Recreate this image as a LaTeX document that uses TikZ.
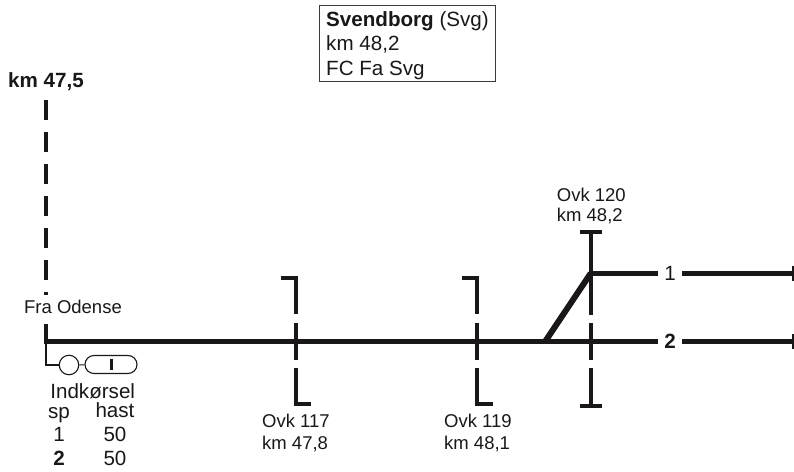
\documentclass[tikz,border=0pt]{standalone}
\usepackage{fontspec}
\setmainfont{Liberation Sans}
\usepackage{tikz}
\usetikzlibrary{positioning,calc}
\definecolor{sort}{HTML}{1A1718}
\tikzset{
	spor/.style={sort,line width=5pt},
	ovk/.style={sort,line width=4pt},
	tynd/.style={sort,line width=1.1pt},
	txt/.style={text=sort,inner sep=0pt,anchor=base west,font=\fontsize{18.5}{21}\selectfont},
	stor/.style={text=sort,inner sep=0pt,font=\fontsize{20.6}{24}\selectfont},
	spnr/.style={stor,minimum width=24pt}
}
\begin{document}
\begin{tikzpicture}[x=1pt,y=-1pt]
	\useasboundingbox (0,0) rectangle (794,471);
	% stationsboks
	\node[draw=sort!85,line width=1pt,stor,anchor=north west,minimum width=176pt,minimum height=75.5pt] (boks) at (319,5) {};
	\node[stor,anchor=base west] (navn) at (326,26.7) {\textbf{Svendborg} (Svg)};
	\node[stor,anchor=base west] (boksKm) at (326,50.7) {km 48,2};
	\node[stor,anchor=base west] (boksFc) at (326,75) {FC Fa Svg};
	% strækning fra Odense
	\node[stor,anchor=base west] (kmStart) at (8,87.7) {\textbf{km 47,5}};
	\coordinate (top) at (46,100);
	\coordinate (start) at (46,341.7);
	\coordinate (skifte) at (545,341.7);
	\coordinate (knaek) at (590.7,273.3);
	\coordinate (slut1) at (793,273.3);
	\coordinate (slut2) at (793,341.7);
	\draw[sort,line width=4pt,dash pattern=on 20pt off 12pt] (top) -- ($(start)+(0,2.5)$);
	\node[txt,anchor=base,fill=white,text height=18pt,text depth=9pt] (fra) at (73,313) {Fra Odense};
	% spor
	\node[spnr] (sp1) at (670,273.3) {1};
	\node[spnr] (sp2) at (670,341.7) {\textbf{2}};
	\draw[spor] ($(start)+(-2,0)$) -- (sp2);
	\draw[spor] (sp2) -- (slut2);
	\draw[spor] (knaek) -- (sp1);
	\draw[spor] (sp1) -- (slut1);
	\draw[sort,line width=6pt] (skifte) -- (knaek);
	\draw[sort,line width=1.5pt] ($(slut1)+(0,-7.5)$) -- ($(slut1)+(0,7.5)$);
	\draw[sort,line width=1.5pt] ($(slut2)+(0,-7.5)$) -- ($(slut2)+(0,7.5)$);
	% overkørsler
	\foreach \x in {295.7,477.3} {
		\draw[ovk] (\x-15,277.5) -- (\x+2,277.5);
		\draw[ovk] (\x,277) -- (\x,314);
		\draw[ovk] (\x,323) -- (\x,360);
		\draw[ovk] (\x,368) -- (\x,406);
		\draw[ovk] (\x-2,404) -- (\x+15.5,404);
	}
	\draw[ovk] (580,232) -- (602,232);
	\draw[ovk] (590.7,232) -- (590.7,315);
	\draw[ovk] (590.7,323) -- (590.7,360);
	\draw[ovk] (590.7,368) -- (590.7,405.7);
	\draw[ovk] (580,405.7) -- (602,405.7);
	\node[txt] (ovk117) at (262,427.7) {Ovk 117};
	\node[txt] (km117) at (262,449) {km 47,8};
	\node[txt] (ovk119) at (444,427.7) {Ovk 119};
	\node[txt] (km119) at (444,449) {km 48,1};
	\node[txt] (ovk120) at (556.7,201) {Ovk 120};
	\node[txt] (km120) at (556.7,221.7) {km 48,2};
	% signal
	\node[draw=sort,line width=1.1pt,circle,minimum size=19.5pt,inner sep=0pt] (sig) at (69,365) {};
	\node[draw=sort,line width=1.1pt,rounded corners=9pt,minimum width=52pt,minimum height=18pt,inner sep=0pt] (pille) at (111,364.5) {};
	\coordinate (bund) at (46,365);
	\draw[tynd] (start) -- (bund) -- (sig);
	\draw[tynd] (sig) -- (pille);
	\draw[sort,line width=3pt] (111,358.5) -- (111,370);
	% indkørsel
	\node[stor,anchor=base] (ind) at (92.7,398) {Indkørsel};
	\node[stor,anchor=base] (sp) at (59,418) {sp};
	\node[stor,anchor=base] (hast) at (115,417.5) {hast};
	\node[stor,anchor=base] (a1) at (59,441.7) {1};
	\node[stor,anchor=base] (b1) at (115,441.7) {50};
	\node[stor,anchor=base] (a2) at (59,465) {\textbf{2}};
	\node[stor,anchor=base] (b2) at (115,465) {50};
\end{tikzpicture}
\end{document}
